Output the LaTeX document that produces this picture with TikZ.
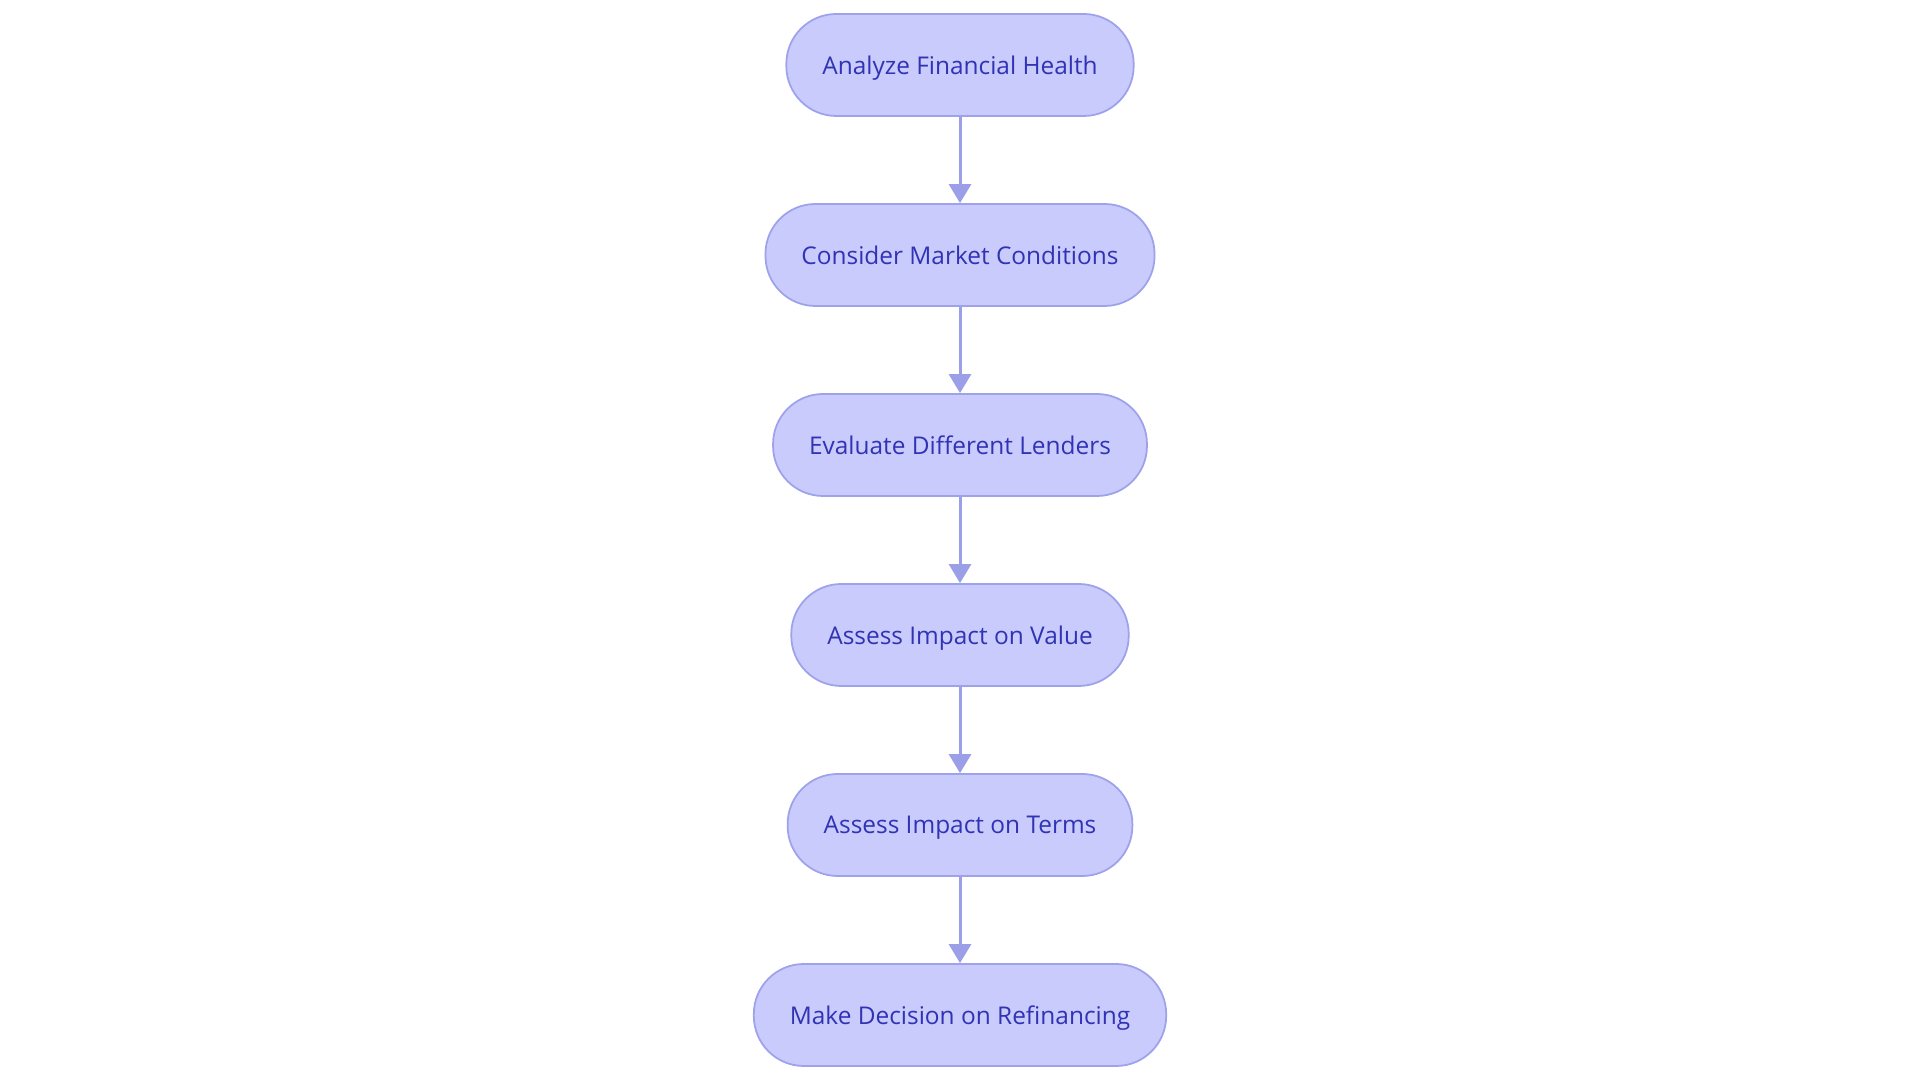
\documentclass[tikz,border=0pt]{standalone}
\usepackage{fontspec}
\setmainfont{Open Sans}
\usetikzlibrary{arrows.meta, positioning}

\definecolor{stepfill}{HTML}{C9CBFC}
\definecolor{stepline}{HTML}{9DA2EA}
\definecolor{steptext}{HTML}{3033B4}
\definecolor{arrowline}{HTML}{9A9FE8}

\tikzset{
	stepbox/.style={
		rectangle,
		rounded corners=0.5cm,
		fill=stepfill,
		draw=stepline,
		line width=0.5pt,
		minimum height=1.02cm,
		inner xsep=0.36cm,
		text depth=0pt,
		text=steptext,
		font=\fontsize{6.95}{8}\selectfont
	},
	flow/.style={
		draw=arrowline,
		line width=0.85pt,
		-{Triangle[length=0.19cm,width=0.22cm]}
	}
}

\begin{document}
\begin{tikzpicture}
					\useasboundingbox (0,0) rectangle (19.2,10.8);

					\node[stepbox] (health) at (9.6, 10.15) {Analyze Financial Health};
					\node[stepbox] (market) at (9.6, 8.25) {Consider Market Conditions};
					\node[stepbox] (lenders) at (9.6, 6.35) {Evaluate Different Lenders};
					\node[stepbox] (value) at (9.6, 4.45) {Assess Impact on Value};
					\node[stepbox] (terms) at (9.6, 2.55) {Assess Impact on Terms};
					\node[stepbox] (decision) at (9.6, 0.65) {Make Decision on Refinancing};

					\draw[flow] (health) -- (market);
					\draw[flow] (market) -- (lenders);
					\draw[flow] (lenders) -- (value);
					\draw[flow] (value) -- (terms);
					\draw[flow] (terms) -- (decision);
				\end{tikzpicture}
\end{document}
